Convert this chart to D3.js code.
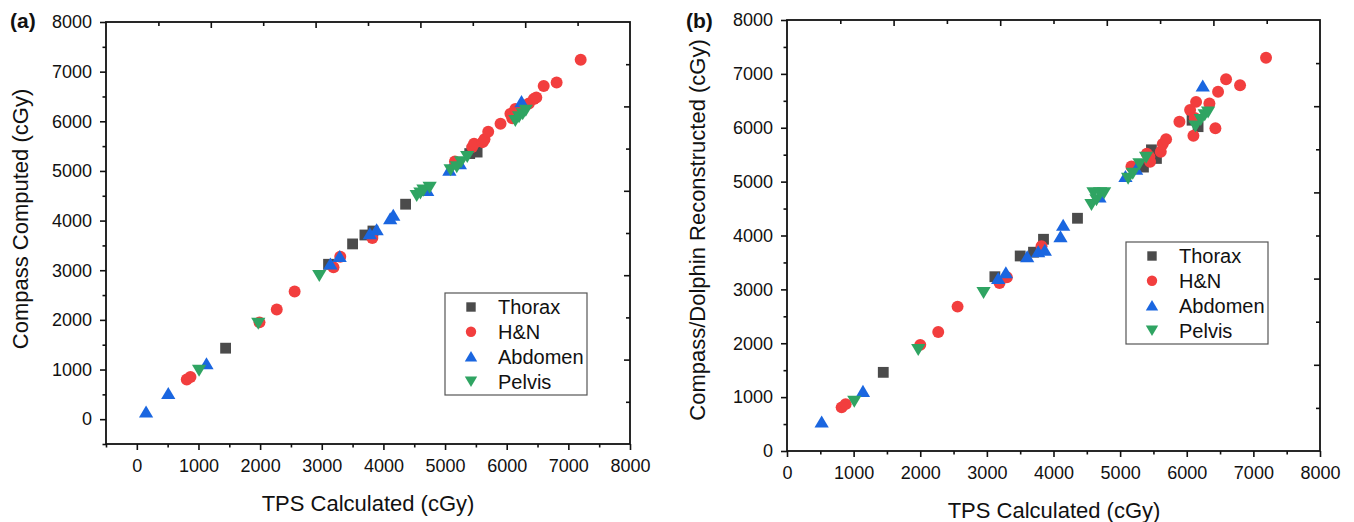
<!DOCTYPE html>
<html>
<head>
<meta charset="utf-8">
<script src="https://cdn.jsdelivr.net/npm/d3@7"></script>
<style>
  body { margin: 0; background: #fff; }
  svg { font-family: "Liberation Sans", Arial, sans-serif; }
</style>
</head>
<body>
<svg id="chart" width="1354" height="522"></svg>
<script>
// series names and colours
const seriesNames = ['Thorax', 'H&N', 'Abdomen', 'Pelvis'];
const seriesColors = ['#4b4b4b', '#f23e3e', '#1a66e0', '#2fa462'];

// panel (a): TPS calculated vs Compass computed
const aThorax = [[1440,1430],[3110,3120],[3500,3530],[3700,3710],[3830,3790],[4360,4330],[5440,5410],[5520,5380],[5400,5350]];
const aHN = [[810,800],[870,850],[1990,1950],[2270,2210],[2560,2570],[3190,3060],[3300,3270],[3820,3650],
  [5160,5190],[5440,5480],[5470,5550],[5610,5580],[5640,5640],[5700,5790],[5900,5950],[6060,6150],
  [6090,6060],[6140,6250],[6360,6360],[6440,6450],[6480,6480],[6600,6710],[6810,6780],[7200,7240]];
const aAbdomen = [[150,150],[510,520],[1130,1120],[3140,3130],[3290,3280],[3780,3740],[3890,3820],
  [4110,4040],[4160,4110],[4710,4610],[5070,5020],[5240,5150],[6240,6400]];
const aPelvis = [[1010,980],[1970,1930],[2960,2890],[4540,4500],[4600,4550],[4650,4610],[4750,4670],
  [5090,5020],[5190,5080],[5260,5180],[5360,5285],[6140,6010],[6200,6090],[6260,6150],[6310,6220]];

// panel (b): TPS calculated vs Compass/Dolphin reconstructed
const bThorax = [[1445,1460],[3120,3235],[3500,3620],[3700,3690],[3850,3930],[4360,4320],
  [5350,5270],[5470,5590],[5545,5430],[6080,6140],[6170,6020]];
const bHN = [[820,810],[880,870],[2000,1970],[2270,2210],[2560,2680],[3190,3120],[3300,3225],[3820,3800],
  [5170,5280],[5400,5520],[5440,5460],[5450,5370],[5610,5555],[5640,5700],[5690,5785],[5890,6110],
  [6050,6330],[6100,5850],[6140,6480],[6120,6180],[6340,6450],[6430,5990],[6470,6670],[6590,6900],
  [6800,6790],[7190,7300]];
const bAbdomen = [[520,540],[1140,1110],[3170,3205],[3285,3310],[3605,3610],[3770,3700],[3870,3730],
  [4105,3980],[4145,4195],[4690,4720],[5080,5100],[5240,5234],[6240,6780]];
const bPelvis = [[1010,920],[1970,1880],[2950,2940],[4570,4570],[4600,4790],[4645,4660],[4700,4790],
  [4760,4790],[5120,5060],[5190,5150],[5290,5330],[5390,5450],[6130,6030],[6210,6150],[6270,6240],[6320,6290]];

// tick labels
const axisTicks = [0, 1000, 2000, 3000, 4000, 5000, 6000, 7000, 8000];
const minorTicksA = [-500, 500, 1500, 2500, 3500, 4500, 5500, 6500, 7500];
const minorTicksB = [500, 1500, 2500, 3500, 4500, 5500, 6500, 7500];
// mirror axes on top / right (fraction of the frame)
const mirrorMajor = [0.2, 0.4, 0.6, 0.8];
const mirrorMinor = [0.1, 0.3, 0.5, 0.7, 0.9];

const svg = d3.select('#chart');

function markerPath(kind, s) {
  if (kind === 0) { const h = s * 0.47; return `M${-h},${-h}H${h}V${h}H${-h}Z`; }
  if (kind === 1) { const r = s * 0.52; return `M${r},0A${r},${r} 0 1,1 ${-r},0A${r},${r} 0 1,1 ${r},0Z`; }
  const w = s * 0.62, hh = s * 0.55;
  if (kind === 2) return `M0,${-hh}L${w},${hh * 0.9}L${-w},${hh * 0.9}Z`;
  return `M0,${hh}L${w},${-hh * 0.9}L${-w},${-hh * 0.9}Z`;
}

function drawPanel(cfg) {
  const width = cfg.right - cfg.left;
  const height = cfg.bottom - cfg.top;
  const g = svg.append('g').attr('transform', 'translate(' + cfg.left + ',' + cfg.top + ')');

  const x = d3.scaleLinear().domain(cfg.xDomain).range([0, width]);
  const y = d3.scaleLinear().domain(cfg.yDomain).range([height, 0]);
  const x2 = d3.scaleLinear().domain([0, 1]).range([0, width]);
  const y2 = d3.scaleLinear().domain([0, 1]).range([height, 0]);

  // bottom / left axes, outward ticks
  g.append('g').attr('transform', 'translate(0,' + height + ')')
    .call(d3.axisBottom(x).tickValues(axisTicks).tickSize(6).tickPadding(cfg.xPad).tickFormat(d3.format('d')));
  g.append('g').attr('transform', 'translate(0,' + height + ')')
    .call(d3.axisBottom(x).tickValues(cfg.minor).tickSize(3.5).tickFormat(''));
  g.append('g')
    .call(d3.axisLeft(y).tickValues(axisTicks).tickSize(6).tickPadding(8).tickFormat(d3.format('d')));
  g.append('g').call(d3.axisLeft(y).tickValues(cfg.minor).tickSize(3.5).tickFormat(''));

  // top / right mirror axes, inward ticks
  g.append('g').call(d3.axisBottom(x2).tickValues(mirrorMajor).tickSize(6).tickFormat(''));
  g.append('g').call(d3.axisBottom(x2).tickValues(mirrorMinor).tickSize(4).tickFormat(''));
  g.append('g').attr('transform', 'translate(' + width + ',0)')
    .call(d3.axisLeft(y2).tickValues(mirrorMajor).tickSize(6).tickFormat(''));
  g.append('g').attr('transform', 'translate(' + width + ',0)')
    .call(d3.axisLeft(y2).tickValues(mirrorMinor).tickSize(4).tickFormat(''));

  g.selectAll('.domain').remove();
  g.selectAll('.tick line').attr('stroke', '#111').attr('stroke-width', 1.6);
  g.selectAll('.tick text').attr('fill', '#111').style('font-size', '18px');

  g.append('rect').attr('width', width).attr('height', height)
    .attr('fill', 'none').attr('stroke', '#111').attr('stroke-width', 1.8);

  // points
  cfg.series.forEach(function (pts, k) {
    g.append('g').selectAll('path')
      .data(pts)
      .enter().append('path')
      .attr('d', markerPath(k, 11.5))
      .attr('transform', function (d) { return 'translate(' + x(d[0]) + ',' + y(d[1]) + ')'; })
      .attr('fill', seriesColors[k]);
  });

  // legend
  const lg = g.append('g').attr('transform', 'translate(' + cfg.legend[0] + ',' + cfg.legend[1] + ')');
  lg.append('rect').attr('width', 142).attr('height', 102)
    .attr('fill', '#fff').attr('stroke', '#555').attr('stroke-width', 1.2);
  seriesNames.forEach(function (name, k) {
    const yy = 14 + k * 24.8;
    lg.append('path').attr('d', markerPath(k, 10)).attr('transform', 'translate(26,' + yy + ')')
      .attr('fill', seriesColors[k]);
    lg.append('text').attr('x', 53).attr('y', yy).attr('dy', '0.36em')
      .style('font-size', '20px').attr('fill', '#111').text(name);
  });

  // titles
  svg.append('text').attr('x', cfg.xTitle[0]).attr('y', cfg.xTitle[1]).attr('text-anchor', 'middle')
    .style('font-size', '22px').attr('fill', '#111').text('TPS Calculated (cGy)');
  svg.append('text').attr('transform', 'translate(' + cfg.yTitle[0] + ',' + cfg.yTitle[1] + ') rotate(-90)')
    .attr('text-anchor', 'middle').attr('dy', '0.35em')
    .style('font-size', '22px').attr('fill', '#111').text(cfg.yLabel);
  svg.append('text').attr('x', cfg.tag[0]).attr('y', cfg.tag[1])
    .style('font-size', '21px').style('font-weight', 'bold').attr('fill', '#111').text(cfg.tagText);
}

drawPanel({
  left: 106, right: 630, top: 22, bottom: 444,
  xDomain: [-500, 8000], yDomain: [-500, 8000], minor: minorTicksA, xPad: 9,
  series: [aThorax, aHN, aAbdomen, aPelvis],
  legend: [339, 271],
  xTitle: [368, 511], yTitle: [20, 219], yLabel: 'Compass Computed (cGy)',
  tag: [10, 28], tagText: '(a)'
});

drawPanel({
  left: 787, right: 1320, top: 20, bottom: 451,
  xDomain: [0, 8000], yDomain: [0, 8000], minor: minorTicksB, xPad: 9,
  series: [bThorax, bHN, bAbdomen, bPelvis],
  legend: [339, 222],
  xTitle: [1054, 518], yTitle: [697, 230], yLabel: 'Compass/Dolphin Reconstructed (cGy)',
  tag: [686, 28], tagText: '(b)'
});
</script>
</body>
</html>
